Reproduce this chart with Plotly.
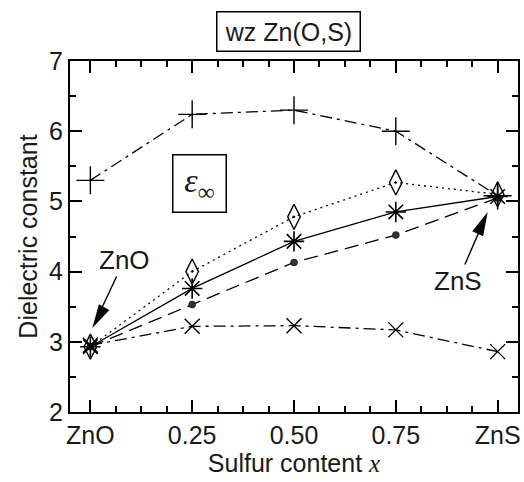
import plotly.graph_objects as go

x_vals = [0.0, 0.25, 0.5, 0.75, 1.0]
x_ticklabels = ["ZnO", "0.25", "0.50", "0.75", "ZnS"]
y_ticks = [2, 3, 4, 5, 6, 7]

eps_plus = [5.30, 6.24, 6.30, 6.00, 5.08]
eps_diamond = [2.93, 4.00, 4.78, 5.27, 5.10]
eps_star = [2.93, 3.76, 4.43, 4.85, 5.07]
eps_dot = [2.93, 3.53, 4.13, 4.52, 5.05]
eps_x = [2.95, 3.22, 3.23, 3.17, 2.86]

FONT = "Liberation Sans, Arial, sans-serif"
TXT = "#1a1a1a"
fig = go.Figure()

def add(y, dash, symbol, size, lw=1.3, mcolor="black", mlw=1.4):
    fig.add_trace(go.Scatter(
        x=x_vals, y=y, mode="lines+markers",
        line=dict(color="black", width=lw, dash=dash),
        marker=dict(symbol=symbol, size=size, color=mcolor,
                    line=dict(color="black", width=mlw)),
        showlegend=False))

add(eps_plus, "12px,5px,3px,5px", "cross-thin-open", 20)
add(eps_x, "12px,5px,3px,5px", "x-thin-open", 15)
add(eps_diamond, "2px,4px", "diamond-tall-open-dot", 18)
add(eps_dot, "14px,7px", "circle", 7, mcolor="#333333", mlw=0.5)
add(eps_star, "solid", "asterisk-open", 17, lw=1.3, mlw=1.6)

minor = dict(ticks="inside", ticklen=6, tickcolor="black", tickwidth=1.5)

fig.update_xaxes(
    range=[-0.05, 1.05], tickmode="array", tickvals=x_vals, ticktext=x_ticklabels,
    ticks="inside", ticklen=12, tickwidth=2, tickcolor="black",
    minor=dict(dtick=0.0625, tick0=0, **minor),
    showline=True, linecolor="black", linewidth=2, mirror="allticks",
    showgrid=False, zeroline=False,
    tickfont=dict(family=FONT, size=25, color=TXT),
    title=dict(text='Sulfur content <span style="font-family:Liberation Serif,serif;font-style:italic">x</span>',
               font=dict(family=FONT, size=25, color=TXT), standoff=2),
)
fig.update_yaxes(
    range=[2, 7], tickmode="array", tickvals=y_ticks,
    ticks="inside", ticklen=12, tickwidth=2, tickcolor="black",
    minor=dict(dtick=0.5, tick0=0, **minor),
    showline=True, linecolor="black", linewidth=2, mirror="allticks",
    showgrid=False, zeroline=False,
    tickfont=dict(family=FONT, size=25, color=TXT),
    title=dict(text="Dielectric constant", font=dict(family=FONT, size=25, color=TXT), standoff=4),
)

annotations = [
    dict(xref="paper", yref="paper", x=0.488, y=1.0, yshift=30, yanchor="middle",
         text="wz Zn(O,S)", showarrow=False, font=dict(family=FONT, size=25, color=TXT),
         bordercolor="black", borderwidth=1.5, width=140, height=36, borderpad=1),
    dict(x=0.269, y=5.25, xref="x", yref="y",
         text='<span style="font-family:Liberation Serif,serif;font-style:italic">ε</span><sub>∞</sub>',
         showarrow=False, font=dict(family="Liberation Serif, serif", size=34, color=TXT),
         bordercolor="black", borderwidth=1.5, width=50, height=54, borderpad=1, bgcolor="white"),
    dict(x=0.0049, y=3.196, xref="x", yref="y", ax=32, ay=-68, text="ZnO", showarrow=True,
         arrowhead=0, arrowwidth=1.4, arrowcolor="black", standoff=12,
         font=dict(family=FONT, size=26, color=TXT)),
    dict(x=0.9756, y=4.849, xref="x", yref="y", ax=-30, ay=69, text="ZnS", showarrow=True,
         arrowhead=0, arrowwidth=1.4, arrowcolor="black", standoff=12,
         font=dict(family=FONT, size=26, color=TXT)),
]

shapes = [
    dict(type="path", xref="x", yref="y", xsizemode="pixel", ysizemode="pixel",
         xanchor=0.0049, yanchor=3.196,
         path="M0,0 L16.99,17.97 L6.53,23.84 Z", fillcolor="black", line=dict(width=0)),
    dict(type="path", xref="x", yref="y", xsizemode="pixel", ysizemode="pixel",
         xanchor=0.9756, yanchor=4.849,
         path="M0,0 L-4.55,-24.3 L-15.45,-19.3 Z", fillcolor="black", line=dict(width=0)),
]

fig.update_layout(
    width=524, height=482,
    margin=dict(l=70, r=4, t=61, b=70),
    plot_bgcolor="white", paper_bgcolor="white",
    annotations=annotations, shapes=shapes,
)

fig.write_html("out.html")
